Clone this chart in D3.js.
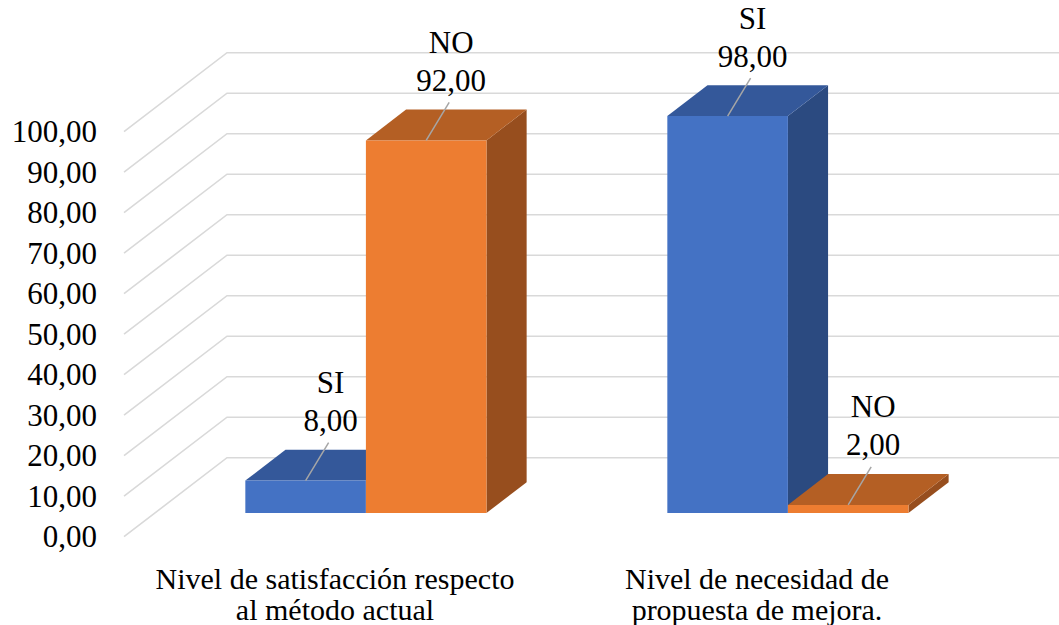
<!DOCTYPE html>
<html>
<head>
<meta charset="utf-8">
<script src="https://cdn.jsdelivr.net/npm/d3@7"></script>
<style>
  html, body { margin: 0; padding: 0; background: #fff; }
  svg { display: block; }
</style>
</head>
<body>
<svg id="chart" width="1059" height="625"></svg>
<script>
// Categories (each label split into two lines)
const categories = ["satisfaccion", "necesidad"];
const categoryLines = [
  ["Nivel de satisfacción respecto", "al método actual"],
  ["Nivel de necesidad de", "propuesta de mejora."]
];
const seriesNames = ["SI", "NO"];
const siValues = [8.00, 98.00];
const noValues = [92.00, 2.00];
const yTicks = [0, 10, 20, 30, 40, 50, 60, 70, 80, 90, 100];

const seriesColors = {
  SI: { front: "#4472C4", top: "#34589A", side: "#2B4A80" },
  NO: { front: "#ED7D31", top: "#B45F24", side: "#974E1E" }
};

const FONT = "'Liberation Serif', Tinos, 'Times New Roman', Times, 'DejaVu Serif', serif";
const W = 1059, H = 625;
const svg = d3.select("#chart")
  .attr("font-family", FONT)
  .style("font-family", FONT);

// Floor front edge spans x 124..968; depth vector goes up-right to the back wall
const depth = { dx: 103, dy: -79 };
const barDepth = [0.30, 0.69]; // front/back of the bars as a fraction of floor depth

const x0 = d3.scaleBand().domain(categories).range([124, 968]).paddingInner(0).paddingOuter(0);
const x1 = d3.scaleBand().domain(seriesNames).range([0, x0.bandwidth()]).paddingInner(0).paddingOuter(0.75);
const y = d3.scaleLinear().domain([0, 100]).range([536.7, 131.7]);

const fmt = d3.formatLocale({ decimal: ",", thousands: ".", grouping: [3], currency: ["", ""] }).format(".2f");

// Gridlines: slanted on the side wall, horizontal on the back wall
const grid = svg.append("g");
yTicks.forEach(t => {
  const yf = y(t), yb = y(t) + depth.dy, xb = x0.range()[0] + depth.dx;
  grid.append("path")
    .attr("d", `M${x0.range()[0]},${yf}L${xb},${yb}L${W},${yb}`)
    .attr("fill", "none").attr("stroke", "#D9D9D9").attr("stroke-width", 1.6);
});

// Y tick labels
svg.append("g").selectAll("text").data(yTicks).join("text")
  .attr("x", 97).attr("y", d => y(d) + 10.5)
  .attr("text-anchor", "end").attr("font-size", 31)
  .text(d => fmt(d));

// Bar records
const bars = [];
categories.forEach((c, i) => {
  bars.push({ cat: c, s: "SI", v: siValues[i] });
  bars.push({ cat: c, s: "NO", v: noValues[i] });
});

const pt = (x, v, f) => [x + f * depth.dx, y(v) + f * depth.dy];

const gBars = svg.append("g");
bars.forEach(b => {
  const xl = x0(b.cat) + x1(b.s), xr = xl + x1.bandwidth();
  const [f0, f1] = barDepth;
  const col = seriesColors[b.s];
  const poly = pts => "M" + pts.map(p => p.join(",")).join("L") + "Z";
  // right side
  gBars.append("path").attr("fill", col.side).attr("d", poly([
    pt(xr, 0, f0), pt(xr, 0, f1), pt(xr, b.v, f1), pt(xr, b.v, f0)
  ]));
  // top
  gBars.append("path").attr("fill", col.top).attr("d", poly([
    pt(xl, b.v, f0), pt(xl, b.v, f1), pt(xr, b.v, f1), pt(xr, b.v, f0)
  ]));
  // front
  gBars.append("path").attr("fill", col.front).attr("d", poly([
    pt(xl, 0, f0), pt(xl, b.v, f0), pt(xr, b.v, f0), pt(xr, 0, f0)
  ]));
  b.fx = (xl + xr) / 2 + f0 * depth.dx;
  b.fy = y(b.v) + f0 * depth.dy;
});

// Data labels with leader lines
const gLab = svg.append("g");
bars.forEach(b => {
  const cx = b.fx + 25, cy = b.fy - 60;
  gLab.append("line")
    .attr("x1", b.fx + 23).attr("y1", cy + 22)
    .attr("x2", b.fx).attr("y2", b.fy)
    .attr("stroke", "#A6A6A6").attr("stroke-width", 1.5);
  gLab.append("text").attr("x", cx).attr("y", cy + 10.5)
    .attr("text-anchor", "middle").attr("font-size", 31).text(fmt(b.v));
  gLab.append("text").attr("x", cx).attr("y", cy + 10.5 - 38)
    .attr("text-anchor", "middle").attr("font-size", 31).text(b.s);
});

// Category labels
const gCat = svg.append("g");
categories.forEach((c, i) => {
  categoryLines[i].forEach((line, j) => {
    gCat.append("text")
      .attr("x", x0(c) + x0.bandwidth() / 2)
      .attr("y", 589 + j * 31)
      .attr("text-anchor", "middle").attr("font-size", 30)
      .text(line);
  });
});
</script>
</body>
</html>
